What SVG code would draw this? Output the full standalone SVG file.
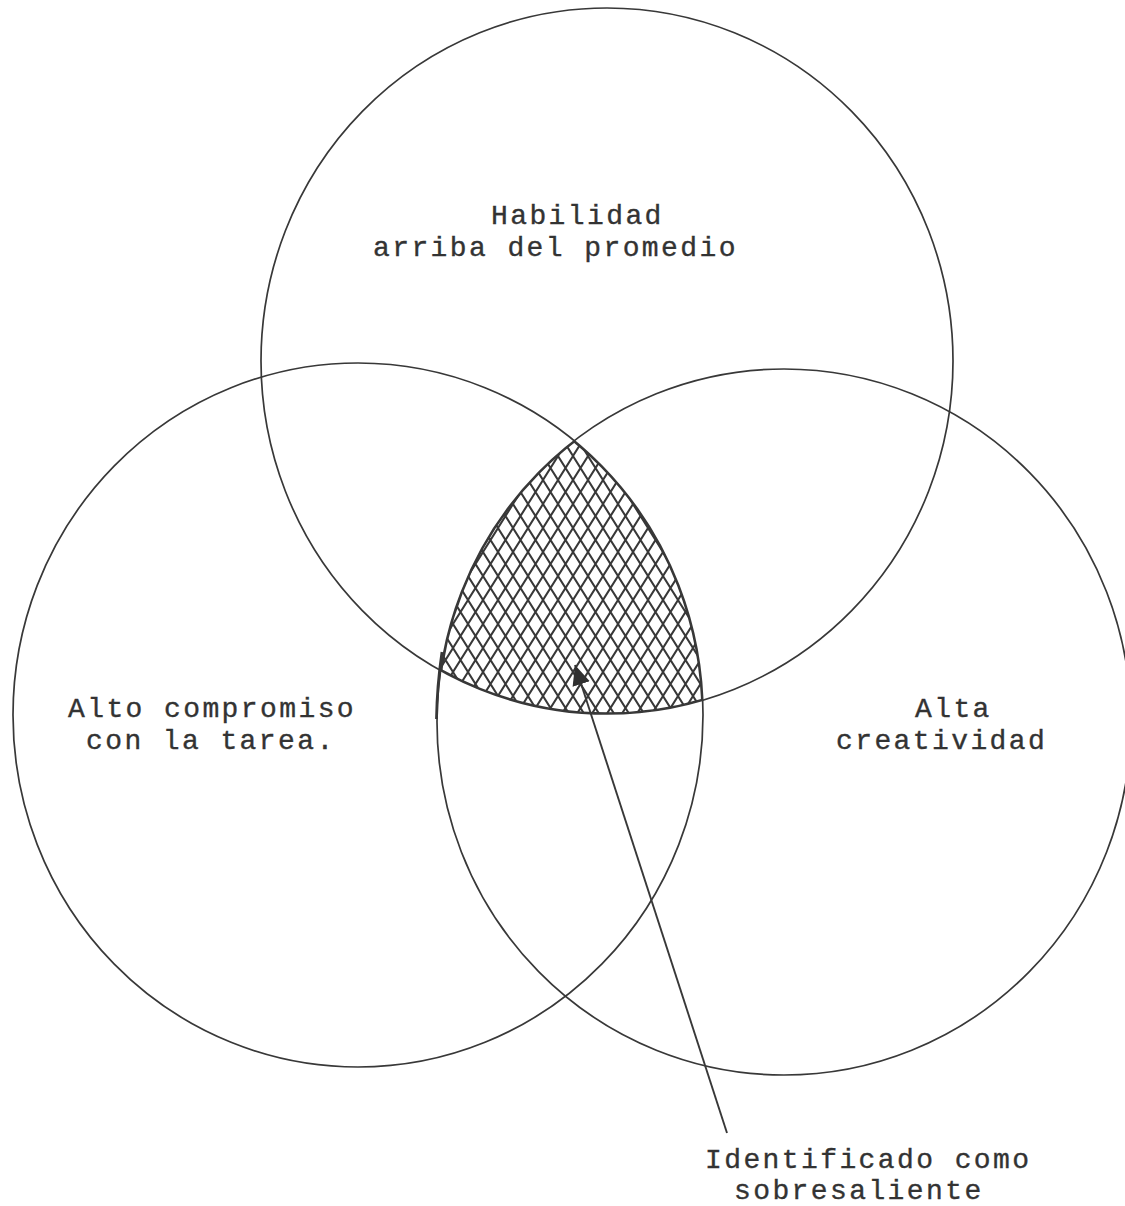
<svg xmlns="http://www.w3.org/2000/svg" width="1125" height="1206" viewBox="0 0 1125 1206">
  <style>
    .ring { fill: none; stroke: #383838; stroke-width: 1.7; }
    .edge { fill: none; stroke: #383838; stroke-width: 3.4; }
    .lbl { font-family: "Liberation Mono", "DejaVu Sans Mono", monospace; font-size: 28px; letter-spacing: 2.4px; fill: #333333; stroke: #333333; stroke-width: 0.35; }
    .conn { fill: none; stroke: #383838; stroke-width: 1.9; }
  </style>
  <defs>
    <pattern id="hatch" patternUnits="userSpaceOnUse" width="15" height="24" x="3" y="0">
      <path d="M-15,-24 L30,48 M30,-24 L-15,48" stroke="#383838" stroke-width="2" fill="none"/>
    </pattern>
    <clipPath id="cT"><ellipse cx="607" cy="361" rx="346" ry="353"/></clipPath>
    <clipPath id="cL"><ellipse cx="358" cy="715" rx="345" ry="352"/></clipPath>
    <clipPath id="cR"><ellipse cx="784" cy="722" rx="347" ry="353"/></clipPath>
    <marker id="head" markerUnits="userSpaceOnUse" markerWidth="22" markerHeight="20" refX="20" refY="9" orient="auto">
      <path d="M0,0 L20,9 L0,18 z" fill="#303030"/>
    </marker>
  </defs>
  <rect width="1125" height="1206" fill="#ffffff"/>

  <g id="overlap">
    <g clip-path="url(#cT)">
      <g clip-path="url(#cL)">
        <g clip-path="url(#cR)">
          <rect x="400" y="400" width="340" height="340" fill="url(#hatch)"/>
          <ellipse class="edge" cx="607" cy="361" rx="346" ry="353"/>
          <ellipse class="edge" cx="358" cy="715" rx="345" ry="352"/>
          <ellipse class="edge" cx="784" cy="722" rx="347" ry="353"/>
        </g>
      </g>
    </g>
    <path d="M442,652 Q437,686 436.5,719" fill="none" stroke="#383838" stroke-width="2.8"/>
  </g>

  <g id="habilidad">
    <ellipse class="ring" cx="607" cy="361" rx="346" ry="353"/>
    <text class="lbl" x="491" y="224">Habilidad</text>
    <text class="lbl" x="373" y="256">arriba del promedio</text>
  </g>

  <g id="compromiso">
    <ellipse class="ring" cx="358" cy="715" rx="345" ry="352"/>
    <text class="lbl" x="68" y="717">Alto compromiso</text>
    <text class="lbl" x="86" y="749">con la tarea.</text>
  </g>

  <g id="creatividad">
    <ellipse class="ring" cx="784" cy="722" rx="347" ry="353"/>
    <text class="lbl" x="915" y="717">Alta</text>
    <text class="lbl" x="836" y="749">creatividad</text>
  </g>

  <g id="identificado">
    <text class="lbl" x="705" y="1168">Identificado como</text>
    <text class="lbl" x="734" y="1199">sobresaliente</text>
  </g>

  <g id="connectors">
    <line class="conn" x1="727" y1="1133" x2="575" y2="665" marker-end="url(#head)"/>
  </g>
</svg>
